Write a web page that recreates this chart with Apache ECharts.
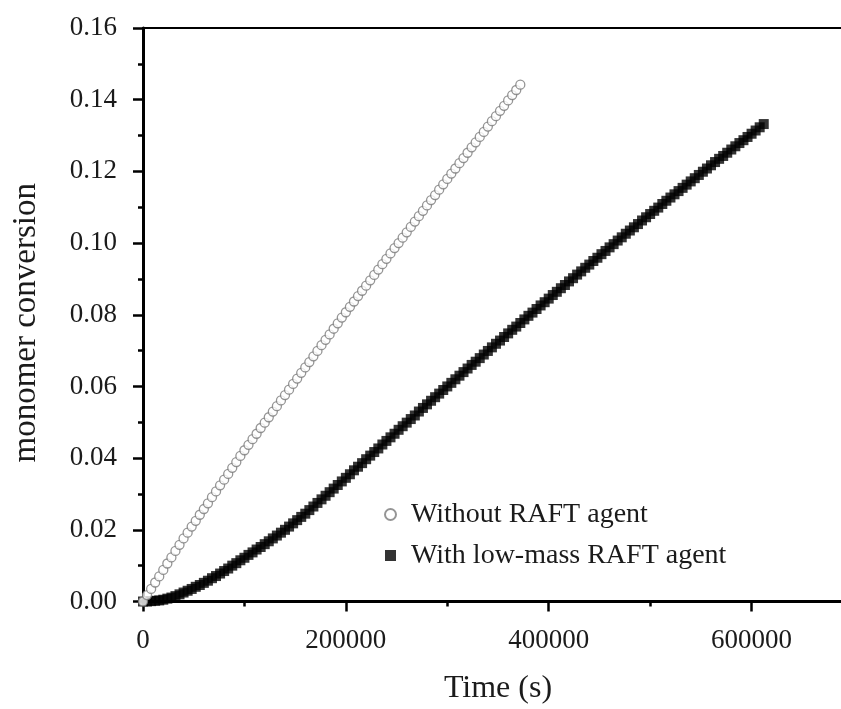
<!DOCTYPE html>
<html>
<head>
<meta charset="utf-8">
<title>monomer conversion</title>
<script src="https://cdn.jsdelivr.net/npm/echarts@6/dist/echarts.min.js"></script>
<style>
  html, body { margin: 0; padding: 0; background: #fff; }
  #main { width: 841px; height: 709px; }
</style>
</head>
<body>
<div id="main"></div>
<script>
// sampling times (s), shared by both runs
const timeS = [
  0, 4000, 8000, 12000, 16000, 20000, 24000, 28000, 32000, 36000,
  40000, 44000, 48000, 52000, 56000, 60000, 64000, 68000, 72000, 76000,
  80000, 84000, 88000, 92000, 96000, 100000, 104000, 108000, 112000, 116000,
  120000, 124000, 128000, 132000, 136000, 140000, 144000, 148000, 152000, 156000,
  160000, 164000, 168000, 172000, 176000, 180000, 184000, 188000, 192000, 196000,
  200000, 204000, 208000, 212000, 216000, 220000, 224000, 228000, 232000, 236000,
  240000, 244000, 248000, 252000, 256000, 260000, 264000, 268000, 272000, 276000,
  280000, 284000, 288000, 292000, 296000, 300000, 304000, 308000, 312000, 316000,
  320000, 324000, 328000, 332000, 336000, 340000, 344000, 348000, 352000, 356000,
  360000, 364000, 368000, 372000, 376000, 380000, 384000, 388000, 392000, 396000,
  400000, 404000, 408000, 412000, 416000, 420000, 424000, 428000, 432000, 436000,
  440000, 444000, 448000, 452000, 456000, 460000, 464000, 468000, 472000, 476000,
  480000, 484000, 488000, 492000, 496000, 500000, 504000, 508000, 512000, 516000,
  520000, 524000, 528000, 532000, 536000, 540000, 544000, 548000, 552000, 556000,
  560000, 564000, 568000, 572000, 576000, 580000, 584000, 588000, 592000, 596000,
  600000, 604000, 608000, 612000
];

// conversion without RAFT agent (first 94 sampling times)
const withoutRaft = [
  0.0000, 0.0018, 0.0035, 0.0053, 0.0070, 0.0088, 0.0106, 0.0123, 0.0141, 0.0158,
  0.0176, 0.0192, 0.0209, 0.0225, 0.0242, 0.0258, 0.0274, 0.0291, 0.0307, 0.0324,
  0.0340, 0.0356, 0.0373, 0.0389, 0.0406, 0.0422, 0.0437, 0.0453, 0.0468, 0.0484,
  0.0499, 0.0514, 0.0530, 0.0545, 0.0561, 0.0576, 0.0591, 0.0607, 0.0622, 0.0638,
  0.0653, 0.0668, 0.0684, 0.0699, 0.0715, 0.0730, 0.0745, 0.0761, 0.0776, 0.0792,
  0.0807, 0.0822, 0.0837, 0.0852, 0.0867, 0.0881, 0.0896, 0.0911, 0.0926, 0.0941,
  0.0956, 0.0971, 0.0986, 0.1000, 0.1015, 0.1030, 0.1045, 0.1060, 0.1075, 0.1090,
  0.1105, 0.1120, 0.1134, 0.1149, 0.1164, 0.1179, 0.1194, 0.1208, 0.1223, 0.1237,
  0.1252, 0.1267, 0.1281, 0.1296, 0.1310, 0.1325, 0.1340, 0.1354, 0.1369, 0.1383,
  0.1398, 0.1413, 0.1427, 0.1442
];

// conversion with low-mass RAFT agent
const withRaft = [
  0.0000, 0.0000, 0.0001, 0.0002, 0.0003, 0.0005, 0.0008, 0.0011, 0.0015, 0.0020,
  0.0025, 0.0030, 0.0035, 0.0041, 0.0046, 0.0052, 0.0058, 0.0065, 0.0071, 0.0078,
  0.0085, 0.0092, 0.0100, 0.0107, 0.0115, 0.0122, 0.0130, 0.0137, 0.0145, 0.0152,
  0.0160, 0.0168, 0.0176, 0.0184, 0.0192, 0.0200, 0.0209, 0.0218, 0.0227, 0.0236,
  0.0245, 0.0255, 0.0265, 0.0275, 0.0285, 0.0295, 0.0305, 0.0315, 0.0325, 0.0335,
  0.0345, 0.0355, 0.0366, 0.0376, 0.0386, 0.0397, 0.0407, 0.0417, 0.0427, 0.0438,
  0.0448, 0.0458, 0.0468, 0.0479, 0.0489, 0.0499, 0.0509, 0.0519, 0.0530, 0.0540,
  0.0550, 0.0560, 0.0570, 0.0580, 0.0590, 0.0600, 0.0610, 0.0620, 0.0630, 0.0640,
  0.0650, 0.0660, 0.0669, 0.0679, 0.0689, 0.0699, 0.0709, 0.0719, 0.0728, 0.0738,
  0.0748, 0.0758, 0.0767, 0.0777, 0.0787, 0.0797, 0.0806, 0.0816, 0.0826, 0.0835,
  0.0845, 0.0855, 0.0864, 0.0874, 0.0883, 0.0893, 0.0902, 0.0912, 0.0921, 0.0931,
  0.0940, 0.0950, 0.0959, 0.0969, 0.0978, 0.0988, 0.0997, 0.1007, 0.1016, 0.1026,
  0.1035, 0.1044, 0.1053, 0.1063, 0.1072, 0.1081, 0.1090, 0.1099, 0.1109, 0.1118,
  0.1127, 0.1136, 0.1145, 0.1154, 0.1163, 0.1172, 0.1181, 0.1190, 0.1199, 0.1208,
  0.1217, 0.1226, 0.1235, 0.1243, 0.1252, 0.1261, 0.1270, 0.1279, 0.1287, 0.1296,
  0.1305, 0.1314, 0.1323, 0.1332
];

const seriesNames = ["Without RAFT agent", "With low-mass RAFT agent"];
const xRange = [0, 700000];
const yRange = [0, 0.16];

const font = '"Liberation Serif", "Times New Roman", serif';
const ink = "#1b1b1b";

const chart = echarts.init(document.getElementById("main"));

const pairs = (vals) => vals.map((v, i) => [timeS[i], v]);

const option = {
  animation: false,
  backgroundColor: "#fff",
  textStyle: { fontFamily: font, color: ink },
  grid: {
    left: 143,
    top: 28,
    width: 710, // plot runs past the right edge of the page
    bottom: 107.5,
    outerBoundsMode: "none",
    containLabel: false,
    show: true,
    borderColor: "#000",
    borderWidth: 2,
  },
  legend: {
    orient: "vertical",
    left: 379,
    top: 495,
    itemWidth: 11,
    itemHeight: 11,
    itemGap: 12,
    textStyle: {
      fontFamily: font,
      fontSize: 28,
      color: ink,
      lineHeight: 29,
      padding: [0, 0, 0, 10],
    },
    data: [
      { name: seriesNames[0], icon: "circle" },
      { name: seriesNames[1], icon: "rect" },
    ],
  },
  xAxis: [
    {
      type: "value",
      min: xRange[0],
      max: xRange[1],
      interval: 200000,
      name: "Time (s)",
      nameLocation: "middle",
      nameGap: 71,
      nameTextStyle: { fontFamily: font, fontSize: 32, color: ink },
      axisLine: { lineStyle: { color: "#000", width: 3 } },
      axisTick: { inside: false, length: 10, lineStyle: { color: "#000", width: 2.5 } },
      axisLabel: {
        margin: 26,
        fontFamily: font,
        fontSize: 27,
        color: ink,
        showMaxLabel: false,
        formatter: (v) => String(v),
      },
      splitLine: { show: false },
    },
    {
      // minor ticks every 100000 s
      type: "value",
      min: xRange[0],
      max: xRange[1],
      interval: 100000,
      position: "bottom",
      axisLine: { show: false },
      axisTick: { inside: false, length: 5, lineStyle: { color: "#000", width: 2.5 } },
      axisLabel: { show: false },
      splitLine: { show: false },
    },
  ],
  yAxis: {
    type: "value",
    min: yRange[0],
    max: yRange[1],
    interval: 0.02,
    name: "monomer conversion",
    nameLocation: "middle",
    nameGap: 100,
    nameTextStyle: { fontFamily: font, fontSize: 33, color: ink, padding: [0, 16, 0, 0] },
    axisLine: { lineStyle: { color: "#000", width: 3 } },
    axisTick: { inside: false, length: 10, lineStyle: { color: "#000", width: 2.5 } },
    minorTick: { show: true, splitNumber: 2, length: 5, lineStyle: { color: "#000", width: 2.5 } },
    axisLabel: {
      margin: 26,
      fontFamily: font,
      fontSize: 27,
      color: ink,
      formatter: (v) => v.toFixed(2),
    },
    splitLine: { show: false },
  },
  series: [
    {
      name: seriesNames[0],
      type: "scatter",
      xAxisIndex: 0,
      symbol: "circle",
      symbolSize: 9,
      itemStyle: { color: "#fff", borderColor: "#7a7a7a", borderWidth: 1.3 },
      data: pairs(withoutRaft),
      z: 3,
    },
    {
      name: seriesNames[1],
      type: "scatter",
      xAxisIndex: 0,
      symbol: "rect",
      symbolSize: 10,
      itemStyle: { color: "#000" },
      data: pairs(withRaft),
      z: 2,
    },
  ],
};

chart.setOption(option);
</script>
</body>
</html>
